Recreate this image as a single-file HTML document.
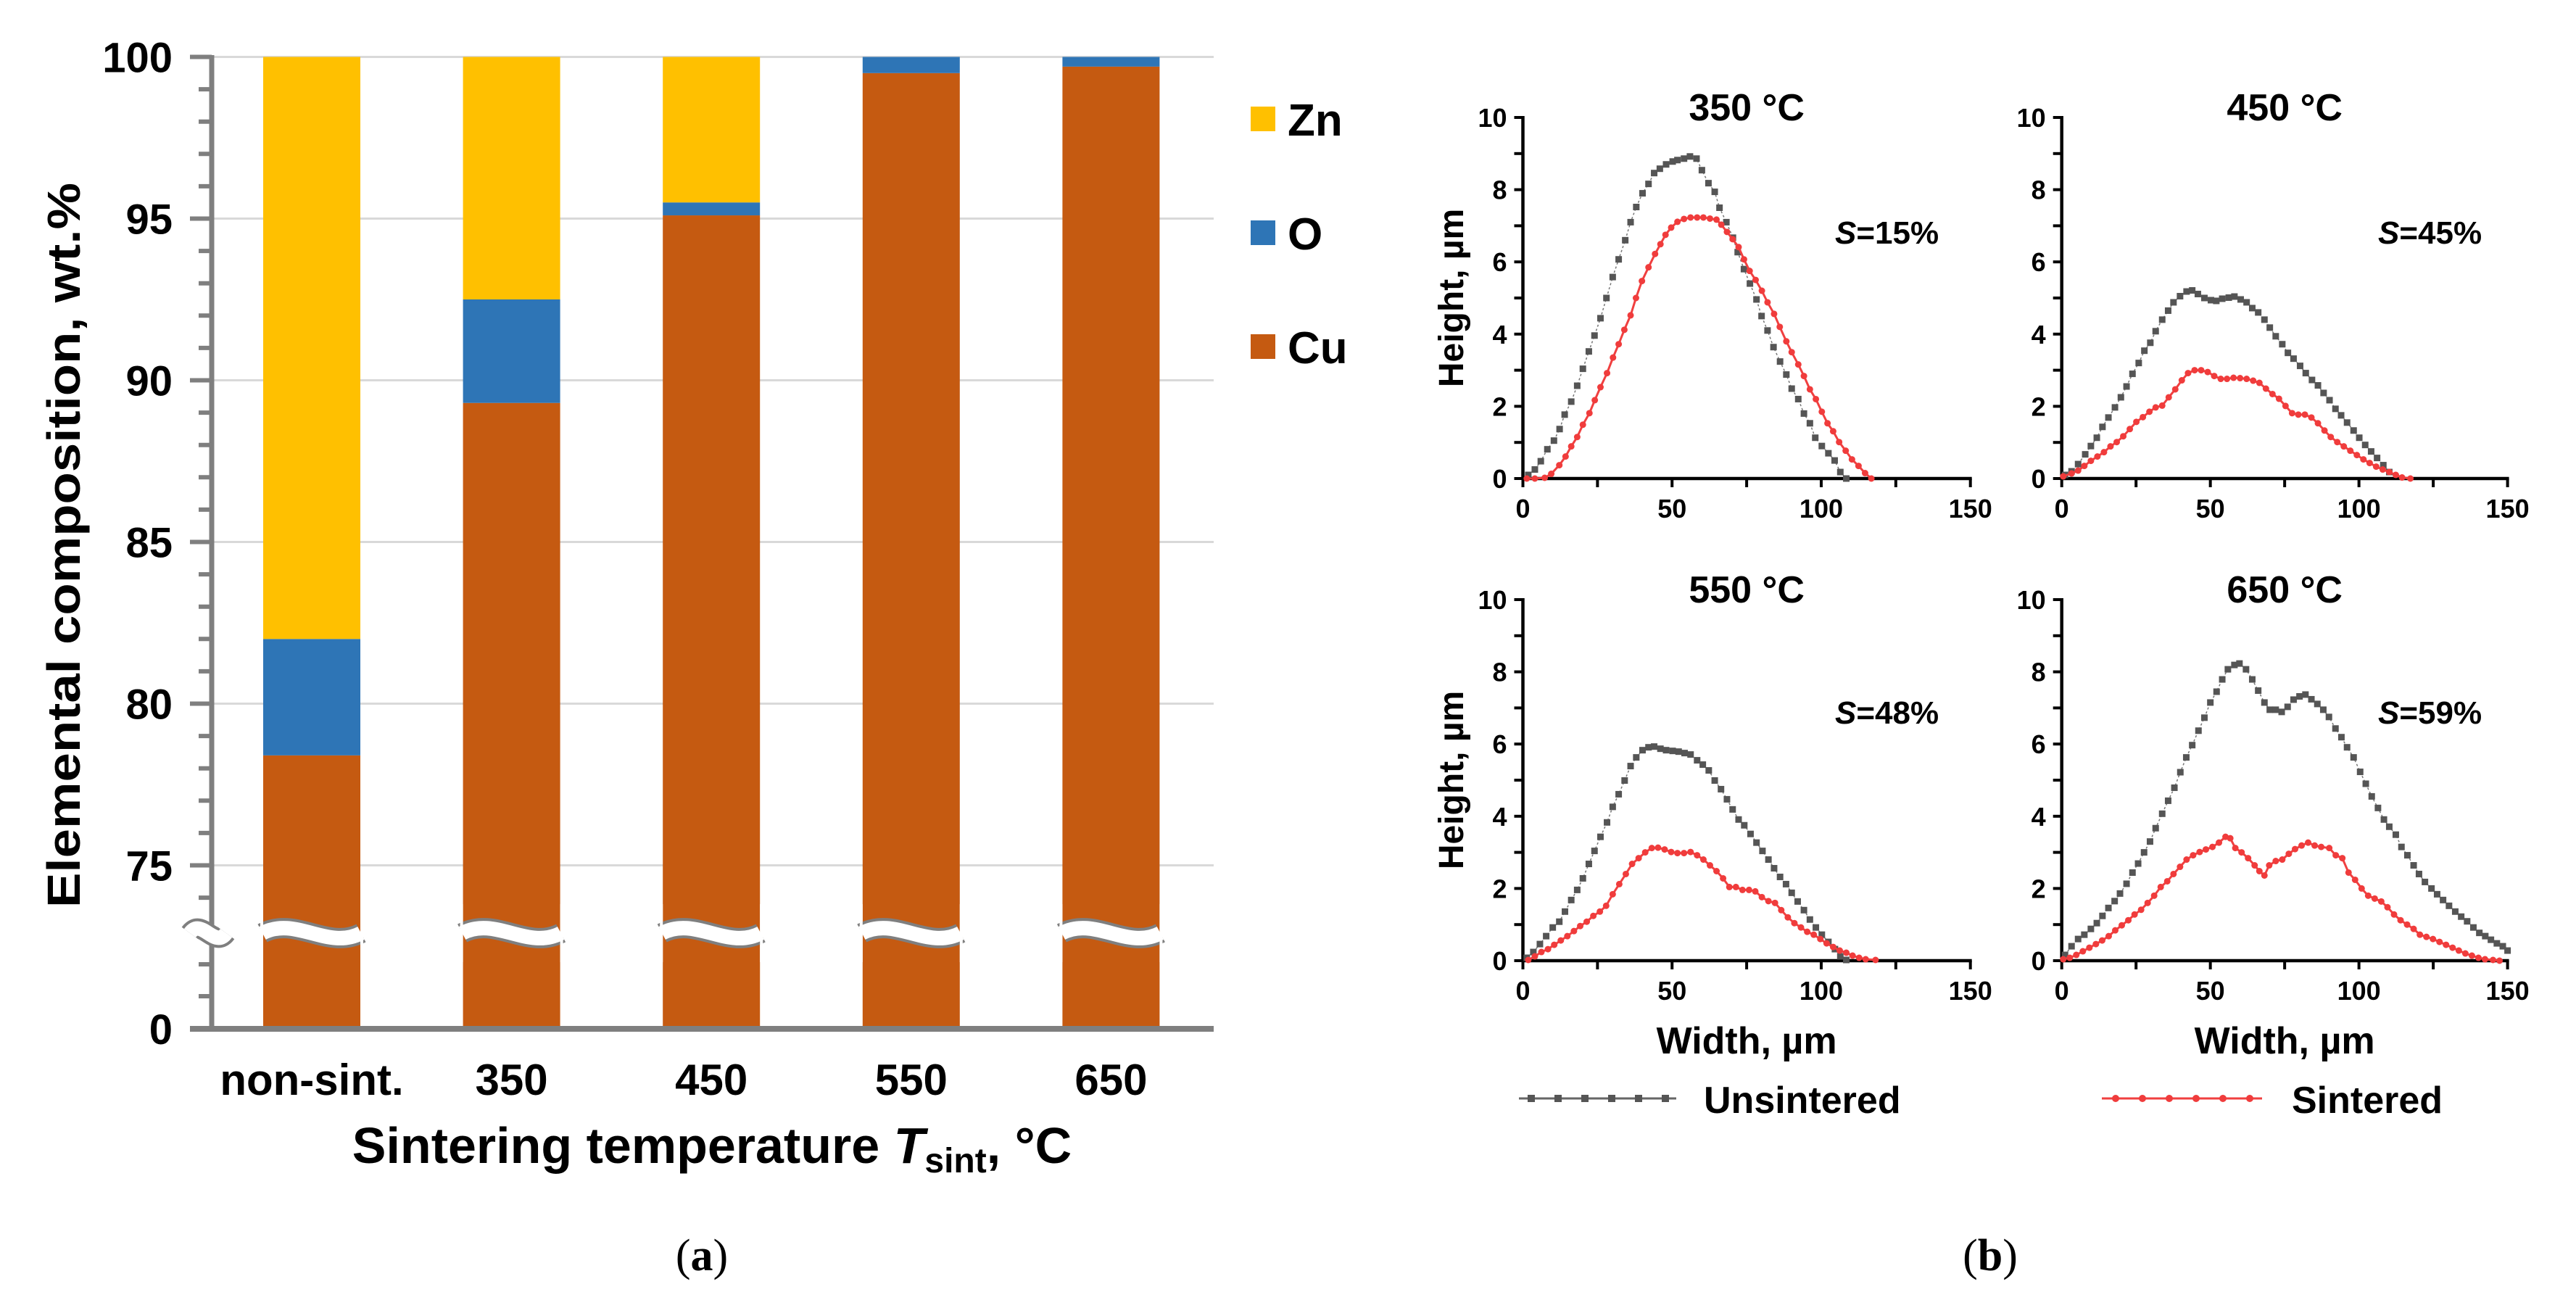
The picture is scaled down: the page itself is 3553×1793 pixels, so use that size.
<!DOCTYPE html>
<html><head><meta charset="utf-8"><style>
html,body{margin:0;padding:0;background:#fff;}
svg{display:block;font-family:"Liberation Sans",Arial,sans-serif;}
</style></head><body>
<svg id="fig" width="3553" height="1793" viewBox="0 0 3553 1793" xmlns="http://www.w3.org/2000/svg">
<rect width="3553" height="1793" fill="#fff"/>
<g id="left"></g>
<g id="right"></g>
<text x="968" y="1752" text-anchor="middle" font-family="Liberation Serif,serif" font-size="62">(<tspan font-weight="bold">a</tspan>)</text>
<text x="2745" y="1752" text-anchor="middle" font-family="Liberation Serif,serif" font-size="62">(<tspan font-weight="bold">b</tspan>)</text>
</svg>
<script>
// ---------- Left chart data ----------
const categories = ["non-sint.", "350", "450", "550", "650"];
const cuValues = [78.4, 89.3, 95.1, 99.5, 99.7];
const oValues = [3.6, 3.2, 0.4, 0.5, 0.3];
const znValues = [18.0, 7.5, 4.5, 0.0, 0.0];
const yTickValues = [100, 95, 90, 85, 80, 75];
const legendNames = ["Zn", "O", "Cu"];

// ---------- Right chart data ([width, height] pairs) ----------
const u350 = [[1.8,0.1],[4,0.25],[6,0.48],[8.2,0.81],[10.4,1.05],[12.3,1.37],[14,1.77],[16.2,2.13],[18.2,2.57],[20.1,3.04],[22.1,3.52],[24,3.96],[26,4.44],[28,5.0],[30.1,5.58],[32.1,6.07],[34.3,6.6],[36.1,7.1],[38,7.52],[40.1,7.9],[42.1,8.16],[44,8.46],[45.9,8.58],[48,8.7],[50.2,8.78],[51.8,8.82],[54,8.86],[56,8.92],[58.2,8.86],[60,8.54],[62.2,8.18],[64.3,7.94],[65.9,7.5],[68.2,7.1],[70.4,6.67],[72,6.27],[74.1,5.8],[76.1,5.4],[78.3,4.96],[80,4.5],[82,4.1],[84,3.64],[86.2,3.24],[88.3,2.88],[90.1,2.49],[92.3,2.2],[94.2,1.8],[96.2,1.53],[98,1.13],[100.2,0.9],[102.4,0.7],[104.5,0.5],[106.4,0.18],[108.4,0]];
const s350 = [[1.3,0],[4,0],[7.3,0.02],[9.5,0.13],[12.2,0.37],[14.3,0.61],[16.2,0.89],[18.2,1.15],[20.1,1.49],[22.3,1.81],[24.1,2.17],[26,2.53],[28.2,2.92],[30.2,3.35],[32.1,3.72],[34,4.12],[36.1,4.52],[37.9,5.0],[39.9,5.47],[42.1,5.85],[44.3,6.22],[46.1,6.49],[47.8,6.75],[49.7,6.95],[51.8,7.11],[54,7.19],[56.2,7.23],[58.4,7.23],[60.5,7.23],[62.7,7.2],[64.9,7.17],[66.5,7.03],[68.4,6.83],[70.3,6.63],[72.3,6.41],[74.1,6.07],[76,5.75],[78,5.5],[80.1,5.2],[82,4.88],[84.2,4.56],[86.1,4.2],[88.3,3.8],[90.1,3.5],[92.3,3.16],[94.2,2.84],[96.2,2.47],[98.2,2.2],[100.2,1.85],[102.1,1.53],[104,1.31],[106,1.01],[108.2,0.77],[110.3,0.53],[112.5,0.35],[114.7,0.15],[116.8,0]];
const u450 = [[1.1,0.1],[3.3,0.2],[5.5,0.4],[7.9,0.67],[9.8,0.9],[11.8,1.13],[13.7,1.43],[15.7,1.69],[17.9,1.97],[19.9,2.25],[21.8,2.55],[23.8,2.9],[25.9,3.2],[27.8,3.54],[29.8,3.76],[31.6,4.08],[33.8,4.4],[35.8,4.65],[37.6,4.88],[39.8,5.05],[42,5.18],[43.9,5.21],[45.8,5.11],[48,5.0],[50.2,4.94],[52,4.92],[54,4.98],[56.2,5.01],[58.1,5.04],[60.2,4.96],[62.2,4.88],[64.1,4.72],[66.1,4.6],[68.2,4.4],[70,4.18],[72,3.94],[74.2,3.72],[76.1,3.48],[78,3.32],[80.2,3.12],[82.1,2.92],[84.2,2.73],[86.2,2.58],[88.1,2.37],[90.1,2.17],[92.1,1.93],[94,1.75],[96,1.55],[98.2,1.33],[100.1,1.13],[102.1,0.93],[104.1,0.75],[106.1,0.57],[108.2,0.37],[110.2,0.18]];
const s450 = [[0.5,0.06],[3.3,0.14],[5.5,0.22],[7.6,0.35],[9.8,0.49],[12,0.61],[14.2,0.73],[16.4,0.89],[18.5,1.01],[20.7,1.17],[22.9,1.37],[25.1,1.57],[27.3,1.7],[29.5,1.85],[31.6,1.97],[33.8,2.02],[36,2.25],[38.2,2.47],[40.4,2.72],[42.5,2.92],[44.7,3.0],[46.9,3.0],[49.1,2.95],[51.3,2.84],[53.5,2.76],[55.6,2.76],[57.8,2.79],[60,2.78],[62.2,2.76],[64.4,2.71],[66.5,2.65],[68.7,2.49],[70.9,2.34],[73.1,2.21],[75.3,2.01],[77.5,1.81],[79.6,1.77],[81.8,1.77],[84,1.69],[86.2,1.53],[88.4,1.33],[90.5,1.15],[92.7,1.01],[94.9,0.89],[97.1,0.77],[99.3,0.65],[101.5,0.53],[103.6,0.43],[105.8,0.33],[108,0.25],[110.2,0.18],[112.4,0.1],[114.5,0.03],[117.3,0]];
const u550 = [[1.3,0.08],[3.5,0.24],[5.7,0.46],[7.8,0.68],[10,0.92],[12.2,1.08],[14.1,1.36],[16.2,1.68],[18.2,1.96],[20.1,2.28],[22.1,2.68],[24,3.04],[26,3.43],[28.2,3.83],[30.1,4.26],[32.1,4.61],[34.1,4.99],[36.1,5.39],[38,5.63],[40.1,5.83],[42.1,5.91],[44,5.93],[46.1,5.87],[48,5.83],[50.2,5.81],[52.2,5.79],[54.2,5.75],[56.2,5.71],[58.4,5.55],[60.3,5.43],[62.3,5.27],[64.3,4.99],[66.4,4.75],[68.4,4.47],[70.3,4.19],[72.3,3.91],[74.2,3.75],[76.3,3.51],[78.3,3.27],[80.3,3.04],[82.3,2.8],[84.2,2.56],[86.2,2.32],[88.2,2.12],[90.1,1.88],[92.1,1.64],[94.2,1.4],[96.2,1.14],[98.2,0.92],[100.2,0.72],[102.4,0.52],[104.6,0.32],[106.4,0.12],[108.4,0.02]];
const s550 = [[1.8,0.02],[4,0.12],[6.2,0.24],[8.4,0.32],[10.5,0.44],[12.7,0.56],[14.9,0.68],[17.1,0.82],[19.2,0.96],[21.4,1.08],[23.6,1.24],[25.8,1.36],[27.9,1.52],[30.1,1.84],[32.3,2.12],[34.5,2.4],[36.6,2.68],[38.8,2.84],[41,3.0],[43.2,3.12],[45.3,3.13],[47.5,3.08],[49.7,3.01],[51.8,2.98],[54,2.98],[56.2,3.01],[58.4,2.92],[60.5,2.8],[62.7,2.64],[64.9,2.48],[67.1,2.28],[69.2,2.04],[71.4,2.04],[73.6,1.96],[75.8,1.96],[77.9,1.92],[80.1,1.76],[82.3,1.65],[84.5,1.6],[86.6,1.4],[88.8,1.2],[91,1.04],[93.2,0.92],[95.3,0.8],[97.5,0.72],[99.7,0.6],[101.8,0.48],[104,0.38],[106.2,0.28],[108.4,0.22],[110.5,0.14],[112.7,0.08],[114.9,0.04],[118.2,0.02]];
const u650 = [[1.1,0.16],[3.3,0.4],[5.5,0.6],[7.6,0.72],[9.8,0.88],[11.8,1.04],[13.7,1.24],[15.7,1.46],[17.8,1.65],[19.6,1.86],[21.8,2.13],[23.8,2.44],[25.7,2.69],[27.7,3.0],[29.7,3.3],[31.6,3.67],[33.8,4.07],[35.8,4.43],[37.9,4.79],[39.9,5.22],[41.9,5.63],[43.9,5.97],[46,6.37],[48,6.73],[50,7.15],[52.1,7.45],[54,7.79],[55.9,8.07],[58.1,8.19],[59.8,8.23],[62,8.07],[64.1,7.79],[66.1,7.48],[68.2,7.15],[70,6.95],[72,6.95],[74,6.89],[76,7.03],[78,7.23],[80,7.32],[82,7.37],[84,7.24],[86,7.11],[88,6.95],[89.9,6.75],[92.1,6.43],[94.1,6.19],[96,5.91],[98.2,5.63],[100.4,5.23],[102.3,4.9],[104.3,4.55],[106.4,4.23],[108.4,3.91],[110.2,3.71],[112.4,3.49],[114.3,3.15],[116.3,2.92],[118.4,2.64],[120.2,2.4],[122.2,2.18],[124.4,2.0],[126.3,1.84],[128.3,1.68],[130.3,1.52],[132.4,1.36],[134.4,1.22],[136.4,1.09],[138.5,0.92],[140.5,0.77],[142.5,0.68],[144.4,0.58],[146.4,0.48],[148.4,0.4],[150,0.28]];
const s650 = [[0.5,0.04],[2.7,0.08],[4.9,0.16],[7.1,0.26],[9.3,0.36],[11.5,0.46],[13.6,0.56],[15.8,0.68],[18,0.84],[20.2,0.98],[22.4,1.12],[24.5,1.28],[26.7,1.41],[28.9,1.6],[31.1,1.8],[33.3,2.04],[35.5,2.2],[37.6,2.4],[39.8,2.6],[42,2.8],[44.2,2.92],[46.4,3.01],[48.5,3.08],[50.7,3.15],[52.9,3.27],[55.1,3.43],[56.7,3.39],[58.4,3.12],[60.5,3.0],[62.7,2.84],[64.9,2.64],[66.5,2.48],[68.2,2.36],[69.8,2.64],[72,2.76],[74.2,2.8],[76.4,2.96],[78.5,3.09],[80.7,3.19],[82.9,3.27],[85.1,3.19],[87.3,3.15],[90,3.12],[92.2,2.92],[94.4,2.84],[96.5,2.44],[98.7,2.24],[100.9,2.0],[103.1,1.8],[105.3,1.72],[107.5,1.64],[109.6,1.48],[111.8,1.28],[114,1.12],[116.2,1.0],[118.4,0.88],[120.5,0.72],[122.7,0.66],[124.9,0.6],[127.1,0.52],[129.3,0.44],[131.5,0.36],[133.6,0.28],[135.8,0.2],[138,0.14],[140.2,0.08],[142.4,0.04],[145.1,0.02],[147.3,0]];
const panelTitles = ["350 °C", "450 °C", "550 °C", "650 °C"];
const shrinkValues = ["15%", "45%", "48%", "59%"];
const xTickLabels = ["0", "50", "100", "150"];
const yTickLabels = ["0", "2", "4", "6", "8", "10"];

const NS = "http://www.w3.org/2000/svg";
function mk(parent, tag, attrs, text) {
  const e = document.createElementNS(NS, tag);
  for (const k in attrs) e.setAttribute(k, attrs[k]);
  if (text !== undefined) e.textContent = text;
  parent.appendChild(e);
  return e;
}

// ================= LEFT =================
(function () {
  const g = document.getElementById('left');
  const axX = 292, x1 = 1674, base = 1419;
  const yv = v => 78.5 + (100 - v) * 44.6;
  const xc = i => 430 + i * 275.6;
  const bw = 134;
  const brk = 1287;
  const colors = { Zn: '#ffc000', O: '#2e75b6', Cu: '#c55a11' };
  yTickValues.forEach(v => {
    const l = mk(g, 'line', { x1: axX, x2: x1, y1: yv(v), y2: yv(v), stroke: '#d9d9d9', 'stroke-width': 3 });
    
    
  });
  categories.forEach((c, i) => {
    const cuTop = yv(cuValues[i]);
    const oTop = yv(cuValues[i] + oValues[i]);
    const znTop = yv(cuValues[i] + oValues[i] + znValues[i]);
    const x = xc(i) - bw / 2;
    const r1 = mk(g, 'rect', { x: x, y: cuTop, width: bw, height: base - cuTop, fill: colors.Cu });
    
    
    const r2 = mk(g, 'rect', { x: x, y: oTop, width: bw, height: cuTop - oTop, fill: colors.O });
    
    
    const r3 = mk(g, 'rect', { x: x, y: znTop, width: bw, height: oTop - znTop, fill: colors.Zn });
    
    
    const d = `M${x - 1},${brk} C${x + bw / 3},${brk - 24} ${x + 2 * bw / 3},${brk + 24} ${x + bw + 1},${brk}`;
    mk(g, 'path', { d: d, stroke: '#7f7f7f', 'stroke-width': 28, fill: 'none' });
    mk(g, 'path', { d: d, stroke: '#fff', 'stroke-width': 20, fill: 'none' });
    mk(g, 'rect', { x: x - 4, y: brk - 40, width: 4, height: 80, fill: '#fff' });
    mk(g, 'rect', { x: x + bw, y: brk - 40, width: 4, height: 80, fill: '#fff' });
    const t = mk(g, 'text', { x: xc(i), y: 1510, 'text-anchor': 'middle', 'font-size': 60, 'font-weight': 'bold' }, c);
    
    
  });
  mk(g, 'line', { x1: axX, x2: axX, y1: 76, y2: base, stroke: '#7f7f7f', 'stroke-width': 7 });
  for (let v = 100; v >= 74; v--) {
    const major = v % 5 === 0;
    mk(g, 'line', { x1: major ? 262 : 274, x2: axX, y1: yv(v), y2: yv(v), stroke: '#7f7f7f', 'stroke-width': 6 });
  }
  [1330, 1374].forEach(y => mk(g, 'line', { x1: 274, x2: axX, y1: y, y2: y, stroke: '#7f7f7f', 'stroke-width': 6 }));
  const ad = `M262,${brk} C278,${brk - 22} 296,${brk + 22} 312,${brk}`;
  mk(g, 'path', { d: ad, stroke: '#7f7f7f', 'stroke-width': 28, fill: 'none' });
  mk(g, 'path', { d: ad, stroke: '#fff', 'stroke-width': 20, fill: 'none' });
  mk(g, 'line', { x1: 262, x2: x1, y1: base, y2: base, stroke: '#7f7f7f', 'stroke-width': 8 });
  yTickValues.forEach(v => {
    const t = mk(g, 'text', { x: 238, y: yv(v) + 21, 'text-anchor': 'end', 'font-size': 58, 'font-weight': 'bold' }, String(v));
    
    
  });
  const z = mk(g, 'text', { x: 238, y: base + 21, 'text-anchor': 'end', 'font-size': 58, 'font-weight': 'bold' }, '0');
  
  
  const yt = mk(g, 'text', { x: 0, y: 0, 'text-anchor': 'middle', 'font-size': 64, 'font-weight': 'bold', transform: 'translate(110,752) rotate(-90)', textLength: 1000, lengthAdjust: 'spacingAndGlyphs' }, 'Elemental composition, wt.%');
  
  
  const xt = mk(g, 'text', { x: 982, y: 1604, 'text-anchor': 'middle', 'font-size': 70, 'font-weight': 'bold' });
  
  
  mk(xt, 'tspan', {}, 'Sintering temperature ');
  mk(xt, 'tspan', { 'font-style': 'italic' }, 'T');
  mk(xt, 'tspan', { 'font-size': 48, dy: 13 }, 'sint');
  mk(xt, 'tspan', { dy: -13 }, ', °C');
  const legY = [164, 321, 478];
  legendNames.forEach((n, i) => {
    const s = mk(g, 'rect', { x: 1725, y: legY[i] - 17, width: 34, height: 34, fill: colors[n] });
    
    
    const t = mk(g, 'text', { x: 1776, y: legY[i] + 23, 'font-size': 62, 'font-weight': 'bold' }, n);
    
    
  });
})();

// ================= RIGHT =================
(function () {
  const g = document.getElementById('right');
  const panels = [
    { x0: 2100.5, x1: 2717.7, y0: 660, y10: 162, u: u350, s: s350, sx: 2531, sy: 336, yt: true, xt: false },
    { x0: 2843.7, x1: 3458.6, y0: 660, y10: 162, u: u450, s: s450, sx: 3280, sy: 336, yt: false, xt: false },
    { x0: 2100.5, x1: 2717.7, y0: 1325, y10: 827, u: u550, s: s550, sx: 2531, sy: 998, yt: true, xt: true },
    { x0: 2843.7, x1: 3458.6, y0: 1325, y10: 827, u: u650, s: s650, sx: 3280, sy: 998, yt: false, xt: true }
  ];
  panels.forEach((p, pi) => {
    const pg = mk(g, 'g', {});
    
    
    const X = v => p.x0 + v / 150 * (p.x1 - p.x0);
    const Y = v => p.y0 - v / 10 * (p.y0 - p.y10);
    for (let v = 0; v <= 150; v += 25) mk(pg, 'line', { x1: X(v), x2: X(v), y1: p.y0, y2: p.y0 + 12, stroke: '#000', 'stroke-width': 4 });
    for (let v = 0; v <= 10; v += 1) mk(pg, 'line', { x1: p.x0 - 12, x2: p.x0, y1: Y(v), y2: Y(v), stroke: '#000', 'stroke-width': 4 });
    mk(pg, 'line', { x1: p.x0, x2: p.x0, y1: p.y10 - 2, y2: p.y0 + 2, stroke: '#000', 'stroke-width': 4.5 });
    mk(pg, 'line', { x1: p.x0 - 2, x2: p.x1 + 2, y1: p.y0, y2: p.y0, stroke: '#000', 'stroke-width': 4.5 });
    xTickLabels.forEach(l => {
      const t = mk(pg, 'text', { x: X(+l), y: p.y0 + 54, 'text-anchor': 'middle', 'font-size': 36, 'font-weight': 'bold' }, l);
      
      
    });
    yTickLabels.forEach(l => {
      const t = mk(pg, 'text', { x: p.x0 - 22, y: Y(+l) + 13, 'text-anchor': 'end', 'font-size': 36, 'font-weight': 'bold' }, l);
      
      
    });
    const tt = mk(pg, 'text', { x: (p.x0 + p.x1) / 2, y: p.y10 + 4, 'text-anchor': 'middle', 'font-size': 52, 'font-weight': 'bold' }, panelTitles[pi]);
    
    
    const st = mk(pg, 'text', { x: p.sx, y: p.sy, 'font-size': 44, 'font-weight': 'bold' });
    
    
    mk(st, 'tspan', { 'font-style': 'italic' }, 'S');
    mk(st, 'tspan', {}, '=' + shrinkValues[pi]);
    if (p.yt) {
      const yt = mk(pg, 'text', { x: 0, y: 0, 'text-anchor': 'middle', 'font-size': 48, 'font-weight': 'bold', transform: `translate(2018,${(p.y0 + p.y10) / 2}) rotate(-90)` }, 'Height, µm');
      
      
    }
    if (p.xt) {
      const xt = mk(pg, 'text', { x: (p.x0 + p.x1) / 2, y: p.y0 + 128, 'text-anchor': 'middle', 'font-size': 52, 'font-weight': 'bold' }, 'Width, µm');
      
      
    }
    const ul = mk(pg, 'polyline', { points: p.u.map(d => X(d[0]) + ',' + Y(d[1])).join(' '), fill: 'none', stroke: '#777', 'stroke-width': 1.5, 'stroke-dasharray': '3,3' });
    
    
    p.u.forEach(d => {
      const r = mk(pg, 'rect', { x: X(d[0]) - 4.5, y: Y(d[1]) - 4.5, width: 9, height: 9, fill: '#555' });
      
      
    });
    const sl = mk(pg, 'polyline', { points: p.s.map(d => X(d[0]) + ',' + Y(d[1])).join(' '), fill: 'none', stroke: '#f04040', 'stroke-width': 3 });
    
    
    p.s.forEach(d => {
      const c = mk(pg, 'circle', { cx: X(d[0]), cy: Y(d[1]), r: 4.5, fill: '#f03c3c' });
      
      
    });
  });
  const lg = mk(g, 'g', {});
  
  
  mk(lg, 'line', { x1: 2095, x2: 2312, y1: 1515, y2: 1515, stroke: '#666', 'stroke-width': 3 });
  for (let i = 0; i < 6; i++) mk(lg, 'rect', { x: 2112 + i * 37 - 5, y: 1510, width: 10, height: 10, fill: '#555' });
  const t1 = mk(lg, 'text', { x: 2350, y: 1535, 'font-size': 52, 'font-weight': 'bold' }, 'Unsintered');
  
  
  mk(lg, 'line', { x1: 2899, x2: 3120, y1: 1515, y2: 1515, stroke: '#f04040', 'stroke-width': 3 });
  for (let i = 0; i < 6; i++) mk(lg, 'circle', { cx: 2918 + i * 37, cy: 1515, r: 5, fill: '#f03c3c' });
  const t2 = mk(lg, 'text', { x: 3161, y: 1535, 'font-size': 52, 'font-weight': 'bold' }, 'Sintered');
  
  
})();
</script>
</body></html>
